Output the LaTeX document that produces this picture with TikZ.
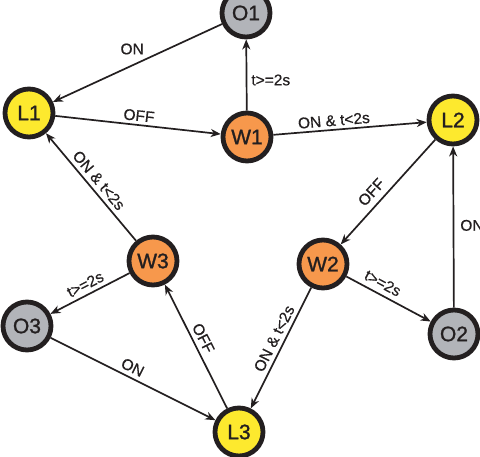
\documentclass[tikz,border=0pt]{standalone}
\usepackage{fontspec}
\setmainfont{Liberation Sans}
\newfontfamily\statefont[FakeBold=1.2]{Liberation Sans}
\newfontfamily\labelfont[FakeBold=0.6]{Liberation Sans}
\usetikzlibrary{arrows.meta}
\definecolor{lyel}{HTML}{FDE92E}
\definecolor{worg}{HTML}{F7984C}
\definecolor{ogry}{HTML}{B2B4B9}
\definecolor{ink}{HTML}{231F20}
\begin{document}
\begin{tikzpicture}[x=1pt,y=-1pt,
  state/.style={circle,draw=ink,line width=4.8pt,minimum size=48pt,inner sep=0pt,
    font=\statefont\fontsize{21}{21}\selectfont,text=ink},
  lstate/.style={state,fill=lyel},
  wstate/.style={state,fill=worg},
  ostate/.style={state,fill=ogry},
  tr/.style={draw=ink,line width=1.7pt,-{Stealth[length=10pt,width=8pt,inset=3pt]}},
  lbl/.style={font=\labelfont\fontsize{15.5}{15.5}\selectfont,text=ink,inner sep=2pt}]
\useasboundingbox (0,0) rectangle (480,457);
\node[ostate] (O1) at (246,13) {O1};
\node[lstate] (L1) at (29,113) {L1};
\node[wstate] (W1) at (247,137) {W1};
\node[lstate] (L2) at (453,120) {L2};
\node[wstate] (W3) at (153,261) {W3};
\node[wstate] (W2) at (323,264) {W2};
\node[ostate] (O3) at (27,326) {O3};
\node[ostate] (O2) at (454,334) {O2};
\node[lstate] (L3) at (239,432) {L3};
\draw[tr] (O1) -- node[lbl,pos=0.44,above left=1pt] {ON} (L1);
\draw[tr] (L1) -- node[lbl,pos=0.5,sloped,above=1pt] {OFF} (W1);
\draw[tr] (W1) -- node[lbl,pos=0.43,right=2pt] {t>=2s} (O1);
\draw[tr] (W1) -- node[lbl,pos=0.4,sloped,above=1pt] {ON \& t<2s} (L2);
\draw[tr] (L2) -- node[lbl,pos=0.58,sloped,above=4pt] {OFF} (W2);
\draw[tr] (O2) -- node[lbl,pos=0.51,right=4pt] {ON} (L2);
\draw[tr] (W2) -- node[lbl,pos=0.37,sloped,above=3pt] {t>=2s} (O2);
\draw[tr] (W2) -- node[lbl,pos=0.46,sloped,above=2pt] {ON \& t<2s} (L3);
\draw[tr] (L3) -- node[lbl,pos=0.53,sloped,above=2pt] {OFF} (W3);
\draw[tr] (W3) -- node[lbl,pos=0.5,sloped,above=2pt] {ON \& t<2s} (L1);
\draw[tr] (W3) -- node[lbl,pos=0.5,sloped,above=2pt] {t>=2s} (O3);
\draw[tr] (O3) -- node[lbl,pos=0.47,sloped,above=2pt] {ON} (L3);
\end{tikzpicture}
\end{document}
